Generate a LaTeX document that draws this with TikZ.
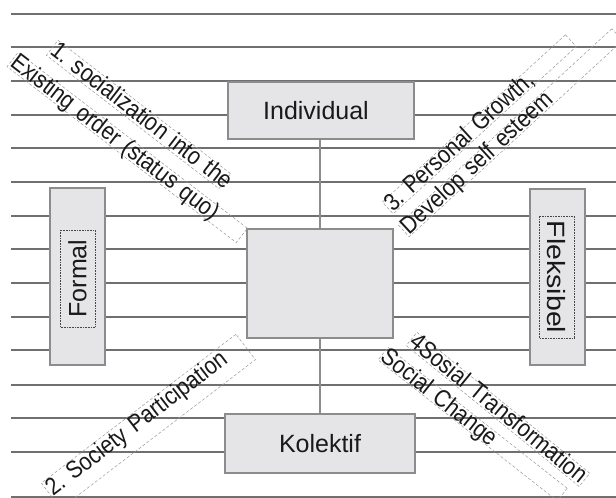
\documentclass[tikz,border=0pt]{standalone}
\usepackage{fontspec}
\setmainfont{Liberation Sans}
\newfontfamily\diagfont[FakeStretch=0.87]{Liberation Sans}
\frenchspacing
\definecolor{boxfill}{RGB}{229,229,231}
\definecolor{boxedge}{RGB}{140,140,140}
\definecolor{rulec}{RGB}{112,112,112}
\definecolor{ink}{RGB}{25,25,25}
\tikzset{
  hline/.style={draw=rulec, line width=1.8pt},
  mainbox/.style={draw=boxedge, line width=1.8pt, fill=boxfill, inner sep=0pt, text=ink, font=\fontsize{25}{30}\selectfont},
  innerbox/.style={draw=ink!80, densely dotted, line width=0.6pt, inner sep=0pt, text=ink, font=\fontsize{25}{30}\selectfont},
  diag/.style={draw=gray!80, densely dashed, line width=0.5pt, inner xsep=1pt, inner ysep=0pt, anchor=north west, align=left, text=ink, font=\diagfont\fontsize{24.5}{26}\selectfont},
  conn/.style={draw=boxedge, line width=1.4pt},
}
\begin{document}
\begin{tikzpicture}[x=1pt,y=-1pt]
\path[use as bounding box, clip] (0,0) rectangle (616,498);
\foreach \yy in {14,47,81,115,148,182,216,249,283,317,350,385,418,452,497}
  \draw[hline] (11,\yy) -- (616,\yy);

\node[mainbox, minimum width=186pt, minimum height=57pt] (ind) at (321,110.5) {Individual\hspace*{10pt}};
\node[mainbox, minimum width=190pt, minimum height=59pt] (kol) at (320,443.5) {Kolektif};
\node[mainbox, minimum width=146pt, minimum height=109pt] (cen) at (320,283.5) {};
\draw[conn] (ind.south -| cen.north) -- (cen.north);
\draw[conn] (cen.south) -- (cen.south |- kol.north);

\node[mainbox, minimum width=55pt, minimum height=177pt] (for) at (77.5,276.5) {};
\node[innerbox, rotate=90, minimum width=97pt, minimum height=35pt] (fortext) at (77.5,278.5) {Formal};
\node[mainbox, minimum width=55pt, minimum height=176pt] (fle) at (557.5,277) {};
\node[innerbox, rotate=-90, minimum width=122pt, minimum height=35pt] (fletext) at (556.5,277) {\scalebox{1.14}[1]{Fleksibel}};

\node[diag, rotate=-37.7, text width=216pt, text height=16pt, text depth=3pt] (s1) at (58,40) {\mbox{1. socialization into the}};
\node[diag, rotate=-37.5, text width=287pt, text height=16pt, text depth=2pt] (s1b) at (18,52) {\mbox{Existing order (status quo)}};
\node[diag, rotate=37.4, text width=243pt, text height=18pt, text depth=14pt] (s2) at (41,483) {\mbox{2. Society Participation}};
\node[diag, rotate=42.4, text width=246pt, text height=15pt, text depth=1pt] (s3) at (382,202) {\mbox{3. Personal Growth,}};
\node[diag, rotate=42.6, text width=288pt, text height=15pt, text depth=1pt] (s3b) at (398,225) {\mbox{Develop self esteem}};
\node[diag, rotate=-39.2, text width=221pt, text height=15pt, text depth=2pt] (s4) at (417,332) {\mbox{4Sosial Transformation}};
\node[diag, rotate=-38.2, text width=226pt, text height=15pt, text depth=1pt] (s4b) at (388,347) {\mbox{Social Change}};
\end{tikzpicture}
\end{document}
